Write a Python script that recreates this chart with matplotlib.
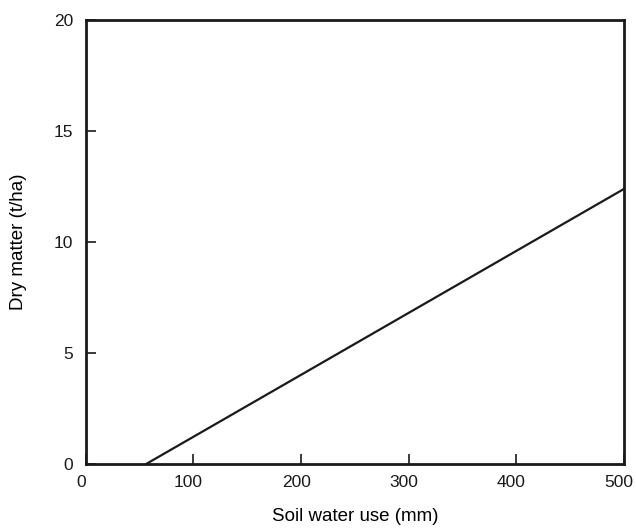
import matplotlib
matplotlib.use("Agg")
import matplotlib.pyplot as plt
import matplotlib.transforms as mtransforms

plt.rcParams['font.family'] = ['Liberation Sans', 'DejaVu Sans']

# water use (mm) vs dry matter (t/ha), straight line fit
water_use = [56, 500]
dry_matter = [0, 12.4]

x_ticks = [0, 100, 200, 300, 400, 500]
y_ticks = [0, 5, 10, 15, 20]

fig = plt.figure(figsize=(6.36, 5.30), dpi=100)
ax = fig.add_axes([0.135, 0.1245, 0.846, 0.837])

ax.plot(water_use, dry_matter, color='#1a1a1a', linewidth=1.6)

ax.set_xlim(0, 500)
ax.set_ylim(0, 20)
ax.set_xticks(x_ticks)
ax.set_yticks(y_ticks)
ax.tick_params(direction='in', length=7, width=1.2, labelsize=12.5, pad=9, colors='#1a1a1a')
ax.tick_params(axis='x', pad=8)
for s in ax.spines.values():
    s.set_linewidth(2)
    s.set_color('#1a1a1a')

# x tick labels sit a little left of their ticks in the original
shift = mtransforms.ScaledTranslation(-5 / 100, 0, fig.dpi_scale_trans)
for lbl in ax.get_xticklabels():
    lbl.set_transform(lbl.get_transform() + shift)

ax.set_xlabel('Soil water use (mm)', fontsize=13.5, labelpad=13)
ax.set_ylabel('Dry matter (t/ha)', fontsize=13.5, labelpad=19)

fig.savefig('out.png', dpi=100)
